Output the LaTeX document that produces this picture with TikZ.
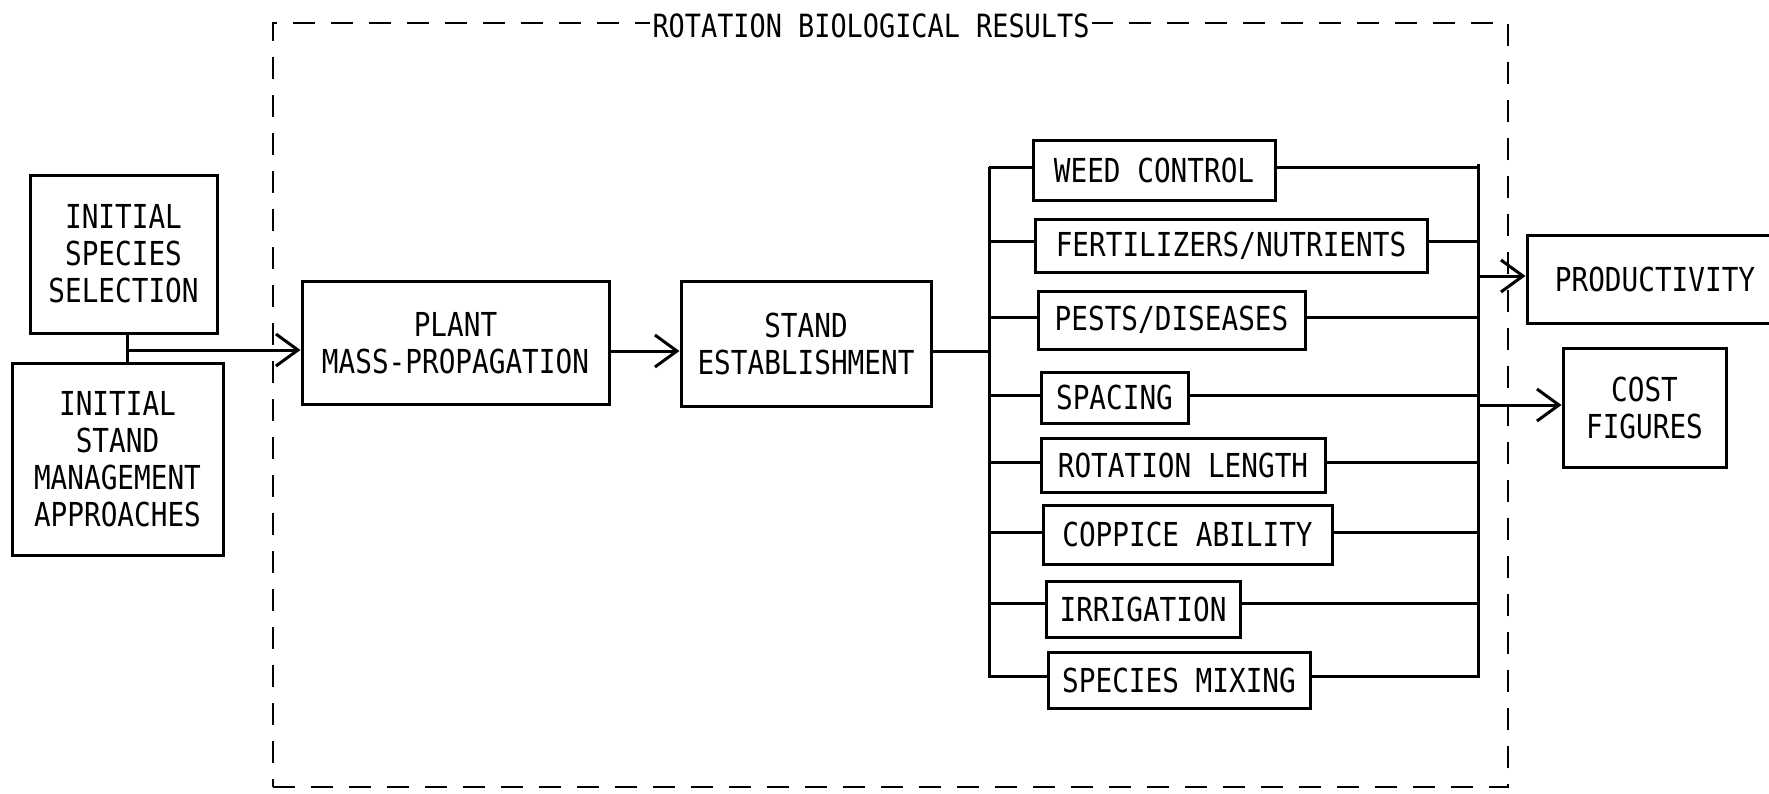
\documentclass[tikz,border=0pt]{standalone}
\usepackage{fontspec}
\setmainfont[FakeStretch=0.84]{DejaVu Sans Mono}
\usetikzlibrary{arrows.meta}
\begin{document}
\begin{tikzpicture}[x=1pt,y=-1pt,
  box/.style={draw, line width=3pt, inner sep=0pt, align=center, font=\fontsize{33}{37}\selectfont},
  conn/.style={line width=3pt},
  arr/.style={conn, -{Straight Barb[length=22pt,width=32pt,line width=3pt]}},
  frame/.style={draw, line width=2.4pt, dash pattern=on 22pt off 16pt, inner sep=0pt},
  ttl/.style={fill=white, inner sep=3pt, font=\fontsize{32}{34}\selectfont}
  ]
\useasboundingbox (0,0) rectangle (1769,793);
% frame
\node[frame, minimum width=1235pt, minimum height=764pt] (fr) at (890.5,405) {};
\node[ttl] (title) at (871,26) {ROTATION BIOLOGICAL RESULTS};
% left inputs
\node[box, minimum width=187pt, minimum height=158pt] (spec) at (123.5,254) {INITIAL\\SPECIES\\SELECTION};
\node[box, minimum width=211pt, minimum height=192pt] (mgmt) at (117.5,459) {INITIAL\\STAND\\MANAGEMENT\\APPROACHES};
\node[box, minimum width=307pt, minimum height=123pt] (plant) at (455.5,343) {PLANT\\MASS-PROPAGATION};
\node[box, minimum width=250pt, minimum height=125pt] (stand) at (806,343.5) {STAND\\ESTABLISHMENT};
% factors
\node[box, minimum width=242pt, minimum height=60pt] (weed) at (1154,170) {WEED CONTROL};
\node[box, minimum width=392pt, minimum height=53pt] (fert) at (1231,245.5) {FERTILIZERS/NUTRIENTS};
\node[box, minimum width=267pt, minimum height=58pt] (pest) at (1171.5,320) {PESTS/DISEASES};
\node[box, minimum width=147pt, minimum height=51pt] (spac) at (1114.5,397.5) {SPACING};
\node[box, minimum width=284pt, minimum height=54pt] (rot) at (1183,465) {ROTATION LENGTH};
\node[box, minimum width=289pt, minimum height=59pt] (copp) at (1187.5,534.5) {COPPICE ABILITY};
\node[box, minimum width=194pt, minimum height=56pt] (irr) at (1143,609) {IRRIGATION};
\node[box, minimum width=262pt, minimum height=56pt] (mix) at (1179,680) {SPECIES MIXING};
% outputs
\node[box, minimum width=256pt, minimum height=88pt] (prod) at (1655,279) {PRODUCTIVITY};
\node[box, minimum width=163pt, minimum height=119pt] (cost) at (1644.5,407.5) {COST\\FIGURES};
% coordinates
\coordinate (j) at (127,350);
\coordinate (lb) at (989,351);
\coordinate (lbt) at (989,167);
\coordinate (lbb) at (989,678);
\coordinate (rbt) at (1478,164);
\coordinate (rbb) at (1478,678);
\coordinate (rp) at (1478,276);
\coordinate (rc) at (1478,405);
% connectors
\draw[conn] (spec.south -| j) -- (mgmt.north -| j);
\draw[arr] (j) -- (j -| plant.west);
\draw[arr] (plant.east |- 0,351) -- (stand.west |- 0,351);
\draw[conn] (stand.east |- lb) -- (lb);
\draw[conn] (lbt) -- (lbb);
\draw[conn] (rbt) -- (rbb);
\foreach \n/\y in {weed/167,fert/241,pest/317,spac/395,rot/462,copp/532,irr/603,mix/676}{
  \draw[conn] (989,\y) -- (\n.west |- 0,\y);
  \draw[conn] (\n.east |- 0,\y) -- (1478,\y);
}
\draw[arr] (rp) -- (prod.west |- rp);
\draw[arr] (rc) -- (cost.west |- rc);
\end{tikzpicture}
\end{document}
